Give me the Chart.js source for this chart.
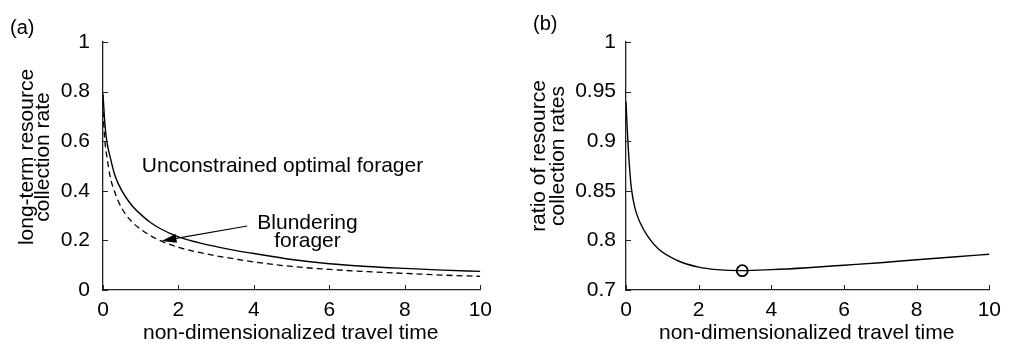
<!DOCTYPE html>
<html>
<head>
<meta charset="utf-8">
<script src="https://cdn.jsdelivr.net/npm/chart.js@4.4.0/dist/chart.umd.min.js"></script>
<style>
  html, body { margin: 0; padding: 0; background: #fff; }
  body { width: 1009px; height: 345px; position: relative; overflow: hidden; }
  canvas { position: absolute; top: 0; }
  #chartA { left: 0; }
  #chartB { left: 520px; }
</style>
</head>
<body>
<canvas id="chartA" width="500" height="345"></canvas>
<canvas id="chartB" width="489" height="345"></canvas>
<script>
// panel (a): long-term collection rate vs travel time
const travelTime = [0, 0.05, 0.1, 0.2, 0.3, 0.4, 0.6, 0.8, 1, 1.25, 1.5, 2, 2.5, 3, 3.5, 4, 5, 6, 7, 8, 9, 10];
const optimalRate = [0.79, 0.67, 0.6, 0.53, 0.47, 0.43, 0.375, 0.335, 0.305, 0.273, 0.249, 0.214, 0.192, 0.175, 0.16, 0.147, 0.123, 0.106, 0.095, 0.087, 0.08, 0.075];
const blunderRate = [0.72, 0.6, 0.54, 0.45, 0.4, 0.36, 0.305, 0.27, 0.245, 0.22, 0.2, 0.172, 0.153, 0.138, 0.125, 0.113, 0.095, 0.083, 0.074, 0.067, 0.06, 0.055];

// panel (b): ratio of the two rates
const ratioTime = [0, 0.03, 0.06, 0.1, 0.15, 0.25, 0.4, 0.6, 0.9, 1.4, 2, 2.5, 3.2, 4, 5, 6, 7, 8, 9, 10];
const ratioValues = [0.94, 0.915, 0.895, 0.872, 0.852, 0.832, 0.817, 0.804, 0.791, 0.780, 0.773, 0.7705, 0.7695, 0.7705, 0.7725, 0.775, 0.7775, 0.7805, 0.7833, 0.786];
const minRatio = [{ x: 3.2, y: 0.7695 }];

// ticks
const xTicks = [0, 2, 4, 6, 8, 10];
const yTicksA = [0, 0.2, 0.4, 0.6, 0.8, 1];
const yTicksB = [0.75, 0.8, 0.85, 0.9, 0.95, 1];
const yTickLabelsB = ['0.7', '0.8', '0.85', '0.9', '0.95', '1'];

// annotation anchors (data units)
const optimalLabelAt = { x: 1.03, y: 0.476 };
const blunderLabelAt = { x: 5.42, y: 0.246 };
const arrowFrom = { x: 3.82, y: 0.258 };
const arrowTo = { x: 1.55, y: 0.198 };

const FONT = "'Liberation Sans', Arial, Helvetica, sans-serif";
const INK = '#000';

Chart.defaults.font.family = FONT;
Chart.defaults.font.size = 21;
Chart.defaults.color = INK;

const toPoints = (xs, ys) => xs.map((x, i) => ({ x, y: ys[i] }));

// draws inward tick marks, axis titles and the panel letter
const makeFrame = (opts) => ({
  id: 'frame',
  afterDraw(chart) {
    const { ctx, chartArea, scales: { x, y } } = chart;
    ctx.save();
    ctx.strokeStyle = '#222';
    ctx.lineWidth = 1;
    ctx.beginPath();
    x.ticks.forEach(t => {
      const px = Math.round(x.getPixelForValue(t.value)) + 0.5;
      ctx.moveTo(px, chartArea.bottom);
      ctx.lineTo(px, chartArea.bottom - 5);
    });
    y.ticks.forEach(t => {
      const py = Math.round(y.getPixelForValue(t.value)) + 0.5;
      ctx.moveTo(chartArea.left, py);
      ctx.lineTo(chartArea.left + 5, py);
    });
    ctx.stroke();

    ctx.fillStyle = INK;
    ctx.font = `21px ${FONT}`;
    ctx.textAlign = 'center';
    ctx.textBaseline = 'alphabetic';
    ctx.fillText('non-dimensionalized travel time', (chartArea.left + chartArea.right) / 2 - 1, 339);

    opts.yTitle.forEach((line, i) => {
      ctx.save();
      ctx.translate(opts.yTitleX[i], opts.yTitleY);
      ctx.rotate(-Math.PI / 2);
      ctx.fillText(line, 0, 0);
      ctx.restore();
    });

    ctx.textAlign = 'left';
    ctx.font = `20px ${FONT}`;
    ctx.fillText(opts.panel, opts.panelX, opts.panelY);
    ctx.restore();
  }
});

const annotationsA = {
  id: 'annotationsA',
  afterDraw(chart) {
    const { ctx, scales: { x, y } } = chart;
    ctx.save();
    ctx.fillStyle = INK;
    ctx.font = `21px ${FONT}`;
    ctx.textBaseline = 'alphabetic';
    ctx.textAlign = 'left';
    ctx.fillText('Unconstrained optimal forager', x.getPixelForValue(optimalLabelAt.x), y.getPixelForValue(optimalLabelAt.y));
    ctx.textAlign = 'center';
    ['Blundering', 'forager'].forEach((line, i) => {
      ctx.fillText(line, x.getPixelForValue(blunderLabelAt.x), y.getPixelForValue(blunderLabelAt.y) + i * 18);
    });

    // arrow pointing at the dashed curve
    const x0 = x.getPixelForValue(arrowFrom.x), y0 = y.getPixelForValue(arrowFrom.y);
    const x1 = x.getPixelForValue(arrowTo.x), y1 = y.getPixelForValue(arrowTo.y);
    const ang = Math.atan2(y1 - y0, x1 - x0);
    const headLen = 15, headHalf = 4.5;
    const bx = x1 - headLen * Math.cos(ang), by = y1 - headLen * Math.sin(ang);
    ctx.strokeStyle = INK;
    ctx.lineWidth = 1.2;
    ctx.beginPath();
    ctx.moveTo(x0, y0);
    ctx.lineTo(bx, by);
    ctx.stroke();
    ctx.beginPath();
    ctx.moveTo(x1, y1);
    ctx.lineTo(bx + headHalf * Math.sin(ang), by - headHalf * Math.cos(ang));
    ctx.lineTo(bx - headHalf * Math.sin(ang), by + headHalf * Math.cos(ang));
    ctx.closePath();
    ctx.fill();
    ctx.restore();
  }
};

const baseScales = (yTicks, yMin, yMax, yWidth, yPad, yLabels) => ({
  x: {
    type: 'linear',
    min: 0,
    max: 10,
    afterBuildTicks: s => { s.ticks = xTicks.map(v => ({ value: v })); },
    afterFit: s => { s.height = 55; },
    grid: { display: false, drawTicks: false },
    border: { display: true, color: '#222', width: 1.3 },
    ticks: { padding: 8, color: INK, font: { size: 21 } }
  },
  y: {
    type: 'linear',
    min: yMin,
    max: yMax,
    afterBuildTicks: s => { s.ticks = yTicks.map(v => ({ value: v })); },
    afterFit: s => { s.width = yWidth; },
    grid: { display: false, drawTicks: false },
    border: { display: true, color: '#222', width: 1.3 },
    ticks: {
      padding: yPad,
      color: INK,
      font: { size: 21 },
      callback: (v, i) => yLabels ? yLabels[i] : String(+v.toFixed(2))
    }
  }
});

new Chart(document.getElementById('chartA'), {
  type: 'line',
  data: {
    datasets: [
      {
        label: 'Unconstrained optimal forager',
        data: toPoints(travelTime, optimalRate),
        borderColor: INK,
        borderWidth: 1.4,
        pointRadius: 0,
        cubicInterpolationMode: 'monotone'
      },
      {
        label: 'Blundering forager',
        data: toPoints(travelTime, blunderRate),
        borderColor: INK,
        borderWidth: 1.3,
        borderDash: [6, 4],
        pointRadius: 0,
        cubicInterpolationMode: 'monotone'
      }
    ]
  },
  options: {
    responsive: false,
    animation: false,
    devicePixelRatio: 1,
    layout: { padding: { top: 42, right: 17, left: 0, bottom: 0 } },
    plugins: { legend: { display: false }, tooltip: { enabled: false } },
    scales: baseScales(yTicksA, 0, 1, 103, 13, null)
  },
  plugins: [
    makeFrame({ yTitle: ['long-term resource', 'collection rate'], yTitleX: [33, 49], yTitleY: 157, panel: '(a)', panelX: 10, panelY: 34 }),
    annotationsA
  ]
});

new Chart(document.getElementById('chartB'), {
  type: 'line',
  data: {
    datasets: [
      {
        label: 'ratio',
        data: toPoints(ratioTime, ratioValues),
        borderColor: INK,
        borderWidth: 1.4,
        pointRadius: 0,
        cubicInterpolationMode: 'monotone'
      },
      {
        label: 'minimum',
        data: minRatio,
        showLine: false,
        pointRadius: 5.5,
        pointBorderWidth: 1.8,
        pointBorderColor: INK,
        pointBackgroundColor: '#fff'
      }
    ]
  },
  options: {
    responsive: false,
    animation: false,
    devicePixelRatio: 1,
    layout: { padding: { top: 42, right: 14, left: 0, bottom: 0 } },
    plugins: { legend: { display: false }, tooltip: { enabled: false } },
    scales: baseScales(yTicksB, 0.75, 1, 106, 10, yTickLabelsB)
  },
  plugins: [
    makeFrame({ yTitle: ['ratio of resource', 'collection rates'], yTitleX: [25, 44], yTitleY: 156, panel: '(b)', panelX: 13, panelY: 30 })
  ]
});
</script>
</body>
</html>
